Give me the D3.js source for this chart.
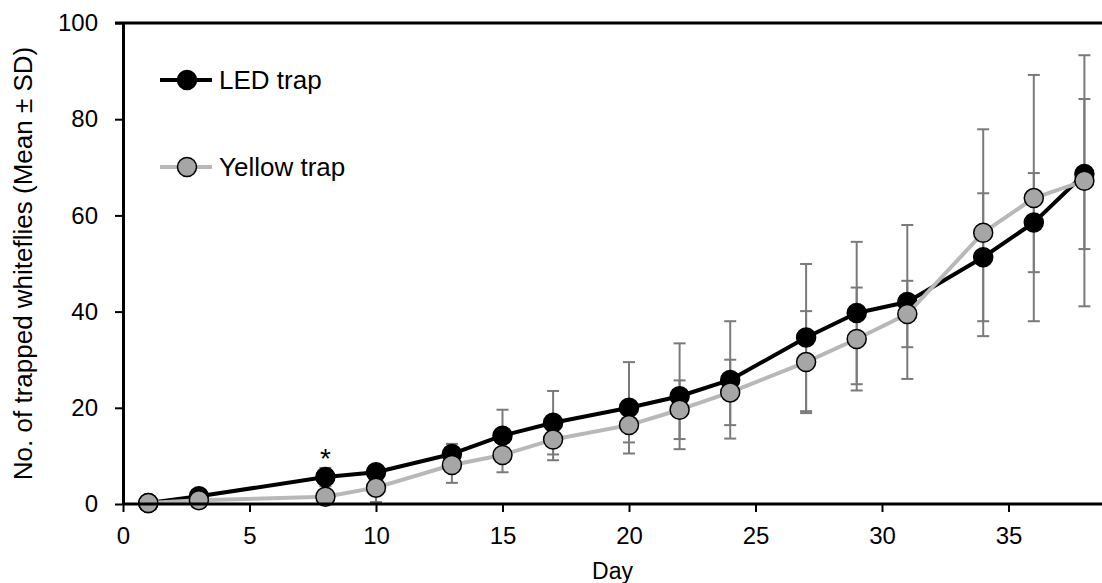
<!DOCTYPE html>
<html>
<head>
<meta charset="utf-8">
<script src="https://cdn.jsdelivr.net/npm/d3@7"></script>
<style>
  body { margin: 0; background: #fff; }
  svg text { font-family: Arial, "Liberation Sans", sans-serif; fill: #000; }
</style>
</head>
<body>
<div id="graph"></div>
<script>
// data
var days = [1, 3, 8, 10, 13, 15, 17, 20, 22, 24, 27, 29, 31, 34, 36, 38];
var ledMean = [0.2, 1.6, 5.6, 6.6, 10.4, 14.2, 16.9, 20.0, 22.4, 25.8, 34.6, 39.7, 42.0, 51.3, 58.5, 68.6];
var ledSD = [0.3, 0.8, 1.9, 1.5, 2.1, 5.4, 6.6, 9.5, 11.0, 12.2, 15.3, 14.8, 16.0, 13.3, 10.3, 15.6];
var yellowMean = [0.2, 0.8, 1.5, 3.4, 8.1, 10.2, 13.4, 16.4, 19.6, 23.2, 29.5, 34.3, 39.5, 56.4, 63.6, 67.2];
var yellowSD = [0.2, 0.5, 1.0, 3.0, 3.7, 3.6, 4.3, 3.6, 6.1, 6.8, 10.6, 10.7, 6.9, 21.5, 25.6, 26.1];
var xTicks = [0, 5, 10, 15, 20, 25, 30, 35];
var yTicks = [0, 20, 40, 60, 80, 100];
var seriesNames = ["LED trap", "Yellow trap"];
var starDays = [8];

function buildGraph() {
    var width = 1102, height = 583;
    var margin = { top: 23, left: 123, bottom: 79 };

    var svg = d3.select("#graph")
        .append("svg")
        .attr("width", width)
        .attr("height", height);

    var x = d3.scaleLinear().domain([0, 39]).range([margin.left, margin.left + 39 * 25.3]);
    var y = d3.scaleLinear().domain([0, 100]).range([height - margin.bottom, margin.top]);

    svg.append("clipPath").attr("id", "clip")
        .append("rect")
        .attr("x", 0).attr("y", 0)
        .attr("width", width).attr("height", height);

    var plot = svg.append("g").attr("clip-path", "url(#clip)");

    // top border line
    plot.append("line")
        .attr("x1", x(0) - 8).attr("x2", width)
        .attr("y1", y(100)).attr("y2", y(100))
        .attr("stroke", "#000").attr("stroke-width", 3);

    // x axis
    var xAxis = svg.append("g")
        .attr("transform", "translate(0," + y(0) + ")")
        .call(d3.axisBottom(x).tickValues(xTicks).tickSize(8).tickPadding(15).tickSizeOuter(0));
    xAxis.select(".domain").attr("stroke-width", 3).attr("d", "M" + x(0) + ",0H" + width);
    xAxis.selectAll(".tick line").attr("stroke-width", 2);
    xAxis.selectAll("text").attr("font-size", 24).style("font-family", "Arial, 'Liberation Sans', sans-serif");

    // y axis
    var yAxis = svg.append("g")
        .attr("transform", "translate(" + x(0) + ",0)")
        .call(d3.axisLeft(y).tickValues(yTicks).tickSize(8).tickPadding(17).tickSizeOuter(0));
    yAxis.select(".domain").attr("stroke-width", 3);
    yAxis.selectAll(".tick line").attr("stroke-width", 2);
    yAxis.selectAll("text").attr("font-size", 24).style("font-family", "Arial, 'Liberation Sans', sans-serif");

    // axis titles
    svg.append("text")
        .attr("x", (x(0) + width) / 2)
        .attr("y", 579)
        .attr("text-anchor", "middle")
        .attr("font-size", 23)
        .text("Day");

    svg.append("text")
        .attr("transform", "translate(32," + ((y(0) + y(100)) / 2) + ") rotate(-90)")
        .attr("text-anchor", "middle")
        .attr("font-size", 26)
        .text("No. of trapped whiteflies (Mean \u00b1 SD)");

    var series = [
        { key: seriesNames[0], mean: ledMean, sd: ledSD, line: "#000", fill: "#000" },
        { key: seriesNames[1], mean: yellowMean, sd: yellowSD, line: "#b8b8b8", fill: "#a6a6a6" }
    ];

    // error bars for both series, drawn first
    series.forEach(function(s) {
        var g = plot.append("g").attr("stroke", "#7a7a7a").attr("stroke-width", 2);
        days.forEach(function(d, i) {
            var lo = Math.max(0, s.mean[i] - s.sd[i]), hi = s.mean[i] + s.sd[i];
            g.append("line").attr("x1", x(d)).attr("x2", x(d)).attr("y1", y(lo)).attr("y2", y(hi));
            g.append("line").attr("x1", x(d) - 6).attr("x2", x(d) + 6).attr("y1", y(lo)).attr("y2", y(lo));
            g.append("line").attr("x1", x(d) - 6).attr("x2", x(d) + 6).attr("y1", y(hi)).attr("y2", y(hi));
        });
    });

    var line = d3.line()
        .x(function(d) { return x(d[0]); })
        .y(function(d) { return y(d[1]); });

    series.forEach(function(s) {
        var pts = days.map(function(d, i) { return [d, s.mean[i]]; });
        plot.append("path")
            .attr("fill", "none")
            .attr("stroke", s.line)
            .attr("stroke-width", 4)
            .attr("stroke-linejoin", "round")
            .attr("d", line(pts));
        plot.selectAll(null)
            .data(pts)
            .enter()
            .append("circle")
            .attr("cx", function(d) { return x(d[0]); })
            .attr("cy", function(d) { return y(d[1]); })
            .attr("r", 9.5)
            .attr("fill", s.fill)
            .attr("stroke", "#000")
            .attr("stroke-width", 1.5);
    });

    // significance mark
    starDays.forEach(function(d) {
        var i = days.indexOf(d);
        svg.append("text")
            .attr("x", x(d))
            .attr("y", y(ledMean[i] + ledSD[i]))
            .attr("text-anchor", "middle")
            .attr("font-size", 28)
            .text("*");
    });

    // legend
    var legendY = [80, 167];
    series.forEach(function(s, i) {
        var lg = svg.append("g").attr("transform", "translate(160," + legendY[i] + ")");
        lg.append("line")
            .attr("x1", 0).attr("x2", 52).attr("y1", 0).attr("y2", 0)
            .attr("stroke", s.line).attr("stroke-width", 4);
        lg.append("circle")
            .attr("cx", 27).attr("cy", 0).attr("r", 9.5)
            .attr("fill", s.fill).attr("stroke", "#000").attr("stroke-width", 1.5);
        lg.append("text")
            .attr("x", 59).attr("y", 9)
            .attr("font-size", 26)
            .text(s.key);
    });
}

buildGraph();
</script>
</body>
</html>
